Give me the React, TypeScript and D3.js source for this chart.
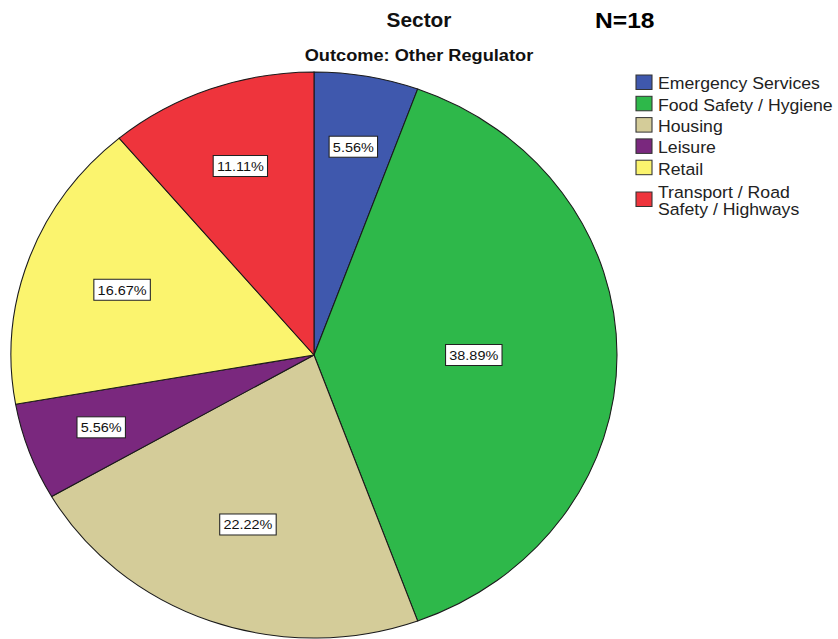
import React, { useEffect, useRef } from 'react';
import * as d3 from 'd3';

const categories = [
  'Emergency Services',
  'Food Safety / Hygiene',
  'Housing',
  'Leisure',
  'Retail',
  'Transport / Road Safety / Highways',
];
const legendLines = [
  ['Emergency Services'],
  ['Food Safety / Hygiene'],
  ['Housing'],
  ['Leisure'],
  ['Retail'],
  ['Transport / Road', 'Safety / Highways'],
];
const counts = [1, 7, 4, 1, 3, 2];
const colors = ['#3f58ad', '#2eb84a', '#d4cc99', '#7a287e', '#fbf46e', '#ee343c'];
const titleText = 'Sector';
const nText = 'N=18';
const subtitleText = 'Outcome: Other Regulator';

const W = 838;
const H = 639;
const SX = 1.0707; // horizontal stretch of the original picture
const FONT = 'Arial, "Liberation Sans", sans-serif';

export default function App() {
  const ref = useRef<SVGSVGElement>(null);

  useEffect(() => {
    const svg = d3.select(ref.current);
    svg.selectAll('*').remove();
    const root = svg.append('g').attr('transform', `scale(${SX},1)`);

    const total = d3.sum(counts);
    const cx = 314 / SX;
    const cy = 355;
    const r = 283;

    const pie = d3.pie<number>().sort(null).value((d) => d);
    const arcs = pie(counts);
    const arc = d3.arc<d3.PieArcDatum<number>>().innerRadius(0).outerRadius(r);

    const pg = root.append('g').attr('transform', `translate(${cx},${cy})`);
    pg.selectAll('path')
      .data(arcs)
      .join('path')
      .attr('d', arc as any)
      .attr('fill', (_, i) => colors[i])
      .attr('stroke', '#1a1a1a')
      .attr('stroke-width', 1);

    // labels
    const lg = pg.append('g');
    arcs.forEach((a) => {
      const frac = a.value / total;
      const k = 0.784 - 0.66 * frac;
      const mid = (a.startAngle + a.endAngle) / 2;
      const x = Math.sin(mid) * r * k;
      const y = -Math.cos(mid) * r * k;
      const label = (frac * 100).toFixed(2) + '%';
      const g = lg.append('g').attr('transform', `translate(${x},${y})`);
      const rect = g.append('rect');
      const t = g
        .append('text')
        .attr('text-anchor', 'middle')
        .attr('dy', '0.36em')
        .attr('font-family', FONT)
        .attr('font-size', 13.5)
        .attr('fill', '#111')
        .text(label);
      const bb = (t.node() as SVGTextElement).getBBox();
      const bw = bb.width + 7;
      const bh = 21;
      rect
        .attr('x', -bw / 2)
        .attr('y', -bh / 2)
        .attr('width', bw)
        .attr('height', bh)
        .attr('fill', '#fff')
        .attr('stroke', '#222')
        .attr('stroke-width', 1);
    });

    // titles
    root
      .append('text')
      .attr('x', 419 / SX)
      .attr('y', 27)
      .attr('text-anchor', 'middle')
      .attr('font-family', FONT)
      .attr('font-weight', 'bold')
      .attr('font-size', 19.5)
      .attr('fill', '#111')
      .text(titleText);
    root
      .append('text')
      .attr('x', 595 / SX)
      .attr('y', 28)
      .attr('font-family', FONT)
      .attr('font-weight', 'bold')
      .attr('font-size', 23)
      .attr('fill', '#000')
      .text(nText);
    root
      .append('text')
      .attr('x', 419 / SX)
      .attr('y', 61)
      .attr('text-anchor', 'middle')
      .attr('font-family', FONT)
      .attr('font-weight', 'bold')
      .attr('font-size', 17)
      .attr('fill', '#111')
      .text(subtitleText);

    // legend
    const leg = root.append('g');
    const rowY = d3.scaleLinear().domain([0, 1]).range([75, 96.3]);
    categories.forEach((c, i) => {
      const lines = legendLines[i];
      const top = i < 5 ? rowY(i) : rowY(i) + 10.5;
      leg
        .append('rect')
        .attr('x', 636 / SX)
        .attr('y', top)
        .attr('width', 16 / SX)
        .attr('height', 14.5)
        .attr('fill', colors[i])
        .attr('stroke', '#333')
        .attr('stroke-width', 1);
      lines.forEach((ln, j) => {
        leg
          .append('text')
          .attr('x', 658 / SX)
          .attr('y', (lines.length > 1 ? top + 6.5 : top + 14.5) + j * 17)
          .attr('font-family', FONT)
          .attr('font-size', 16.5)
          .attr('fill', '#222')
          .text(ln);
      });
    });
  }, []);

  return (
    <svg
      ref={ref}
      width={W}
      height={H}
      style={{ position: 'absolute', left: 0, top: 0, background: '#fff' }}
    />
  );
}
